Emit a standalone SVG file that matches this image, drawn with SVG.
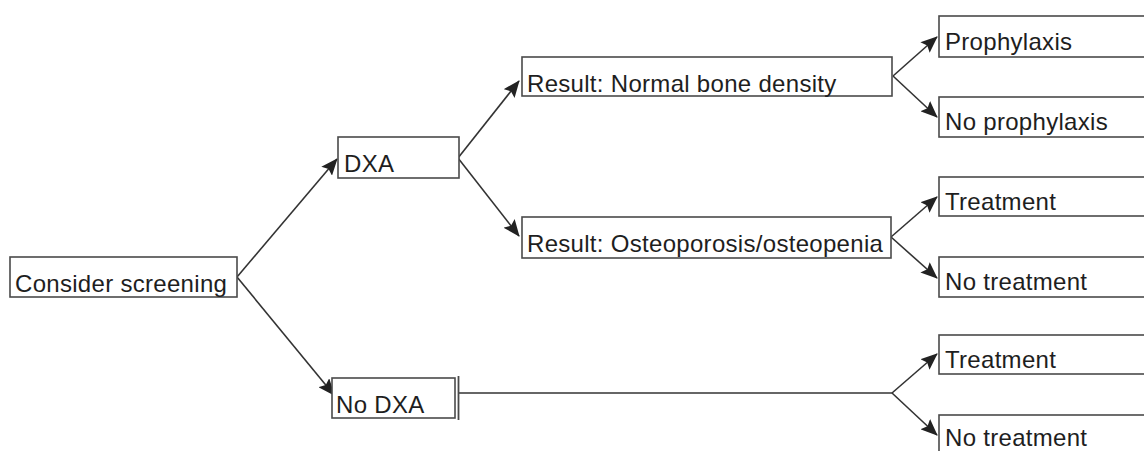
<svg xmlns="http://www.w3.org/2000/svg" width="1144" height="451" viewBox="0 0 1144 451">
<style>
.box{fill:#fff;stroke:#4a4a4a;stroke-width:1.6}
.lbl{font-family:"Liberation Sans",Arial,sans-serif;font-size:24px;letter-spacing:0.3px;fill:#1e1e1e}
.edge{fill:none;stroke:#333;stroke-width:1.6}
</style>
<defs>
<marker id="ah" markerUnits="userSpaceOnUse" markerWidth="17" markerHeight="14" refX="16" refY="7" orient="auto" viewBox="0 0 17 14">
<path d="M0,0 L17,7 L0,14 L3,7 Z" fill="#222"/>
</marker>
</defs>
<rect width="1144" height="451" fill="#fff"/>
<g id="connectors">
<path class="edge" d="M237,277 L337,159" marker-end="url(#ah)"/>
<path class="edge" d="M237,277 L334,395" marker-end="url(#ah)"/>
<path class="edge" d="M458,158 L519,81" marker-end="url(#ah)"/>
<path class="edge" d="M458,158 L519,236" marker-end="url(#ah)"/>
<path class="edge" d="M893,76 L937,37" marker-end="url(#ah)"/>
<path class="edge" d="M893,76 L937,117" marker-end="url(#ah)"/>
<path class="edge" d="M891,237 L937,197" marker-end="url(#ah)"/>
<path class="edge" d="M891,237 L937,278" marker-end="url(#ah)"/>
<path class="edge" d="M459,393 L892,393"/>
<path class="edge" d="M892,393 L937,354" marker-end="url(#ah)"/>
<path class="edge" d="M892,393 L937,435" marker-end="url(#ah)"/>
</g>
<g id="n-consider">
<rect class="box" x="10" y="257" width="227" height="40"/>
<text class="lbl" x="15" y="292">Consider screening</text>
</g>
<g id="n-dxa">
<rect class="box" x="338" y="137" width="121" height="41"/>
<text class="lbl" x="344" y="172">DXA</text>
</g>
<g id="n-nodxa">
<rect class="box" x="332" y="378" width="123" height="40"/>
<line x1="458.5" y1="376" x2="458.5" y2="420" stroke="#4a4a4a" stroke-width="1.8"/>
<text class="lbl" x="336" y="413">No DXA</text>
</g>
<g id="n-normal">
<rect class="box" x="522" y="57" width="370" height="39"/>
<text class="lbl" x="527" y="92">Result: Normal bone density</text>
</g>
<g id="n-osteo">
<rect class="box" x="522" y="217" width="369" height="41"/>
<text class="lbl" x="527" y="252">Result: Osteoporosis/osteopenia</text>
</g>
<g id="n-prophylaxis">
<rect class="box" x="939" y="16" width="220" height="41"/>
<text class="lbl" x="945" y="50">Prophylaxis</text>
</g>
<g id="n-noprophylaxis">
<rect class="box" x="939" y="97" width="220" height="40"/>
<text class="lbl" x="945" y="130">No prophylaxis</text>
</g>
<g id="n-treatment1">
<rect class="box" x="939" y="177" width="220" height="39"/>
<text class="lbl" x="945" y="210">Treatment</text>
</g>
<g id="n-notreatment1">
<rect class="box" x="939" y="257" width="220" height="40"/>
<text class="lbl" x="945" y="290">No treatment</text>
</g>
<g id="n-treatment2">
<rect class="box" x="939" y="335" width="220" height="39"/>
<text class="lbl" x="945" y="368">Treatment</text>
</g>
<g id="n-notreatment2">
<rect class="box" x="939" y="415" width="220" height="40"/>
<text class="lbl" x="945" y="446">No treatment</text>
</g>
</svg>
